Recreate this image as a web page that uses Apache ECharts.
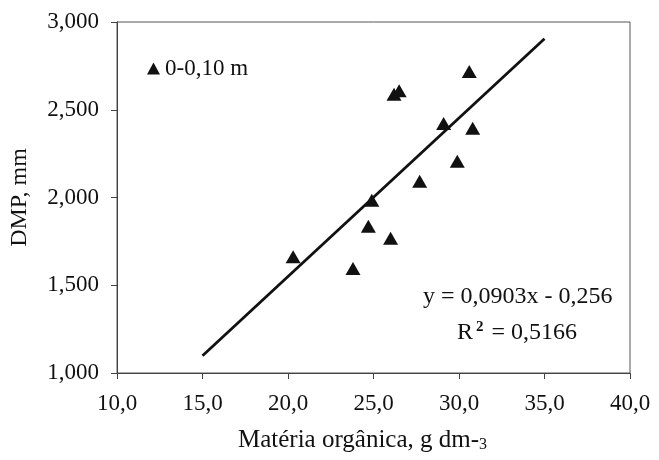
<!DOCTYPE html>
<html>
<head>
<meta charset="utf-8">
<script src="https://cdn.jsdelivr.net/npm/echarts@6/dist/echarts.min.js"></script>
<style>html,body{margin:0;padding:0;background:#fff}#c{width:659px;height:460px}</style>
</head>
<body>
<div id="c"></div>
<script>
// Data
var organicMatter = [20.3, 23.8, 24.7, 24.9, 26.0, 26.2, 26.5, 27.7, 29.1, 29.9, 30.6, 30.8];
var dmpValues     = [1.662, 1.595, 1.836, 1.985, 1.768, 2.589, 2.608, 2.093, 2.421, 2.207, 2.718, 2.394];
var trendX = [15, 35];
var slope = 0.0903, intercept = -0.256;
var seriesName = '0-0,10 m';
var xTicks = [10, 15, 20, 25, 30, 35, 40];
var yTicks = [1.0, 1.5, 2.0, 2.5, 3.0];

var font = 'Liberation Serif';
var points = organicMatter.map(function (x, i) { return [x, dmpValues[i]]; });
var trend = trendX.map(function (x) { return [x, slope * x + intercept]; });

var chart = echarts.init(document.getElementById('c'), null, {renderer: 'canvas'});
chart.setOption({
  animation: false,
  backgroundColor: '#fff',
  grid: {left: 117, right: 29, top: 22, bottom: 87, show: true, borderColor: '#555', borderWidth: 1},
  legend: {
    data: [{name: seriesName, icon: 'triangle'}],
    left: 142, top: 52, itemWidth: 13, itemHeight: 12, itemGap: 6,
    textStyle: {fontFamily: font, fontSize: 23, color: '#111'}
  },
  xAxis: {
    type: 'value', min: xTicks[0], max: xTicks[xTicks.length - 1], interval: 5,
    axisLine: {lineStyle: {color: '#444'}},
    axisTick: {inside: false, length: 6, lineStyle: {color: '#444'}},
    splitLine: {show: false},
    axisLabel: {fontFamily: font, fontSize: 23, color: '#111', margin: 19,
      formatter: function (v) { return v.toFixed(1).replace('.', ','); }},
    name: '{a|Matéria orgânica, g dm-}{s|3}', nameLocation: 'middle', nameGap: 55,
    nameTextStyle: {padding: [0, 22, 0, 0], rich: {
      a: {fontFamily: font, fontSize: 25, color: '#111'},
      s: {fontFamily: font, fontSize: 16, color: '#111', verticalAlign: 'bottom', padding: [9, 0, 0, 0]}
    }}
  },
  yAxis: {
    type: 'value', min: yTicks[0], max: yTicks[yTicks.length - 1], interval: 0.5,
    axisLine: {show: true, lineStyle: {color: '#444'}},
    axisTick: {show: true, inside: false, length: 6, lineStyle: {color: '#444'}},
    splitLine: {show: false},
    axisLabel: {fontFamily: font, fontSize: 23, color: '#111', margin: 18,
      formatter: function (v) { return v.toFixed(3).replace('.', ','); }},
    name: 'DMP, mm', nameLocation: 'middle', nameGap: 85,
    nameTextStyle: {fontFamily: font, fontSize: 24, color: '#111'}
  },
  graphic: [
    {type: 'text', left: 423, top: 285, style: {text: 'y = 0,0903x - 0,256', font: '24px "Liberation Serif"', fill: '#111'}},
    {type: 'text', left: 457, top: 320, style: {
      text: '{a|R}{s|2}{a| = 0,5166}',
      rich: {
        a: {fontFamily: font, fontSize: 24, fill: '#111'},
        s: {fontFamily: font, fontSize: 15, fontWeight: 'bold', fill: '#111', verticalAlign: 'top', padding: [0, 2, 10, 3]}
      }
    }}
  ],
  series: [
    {
      name: seriesName, type: 'scatter', symbol: 'triangle', symbolSize: [15, 13],
      itemStyle: {color: '#111', opacity: 1}, data: points, z: 3
    },
    {
      name: 'trend', type: 'line', data: trend, showSymbol: false, symbol: 'none',
      lineStyle: {color: '#111', width: 2.8}, z: 2, silent: true
    }
  ]
});
</script>
</body>
</html>
